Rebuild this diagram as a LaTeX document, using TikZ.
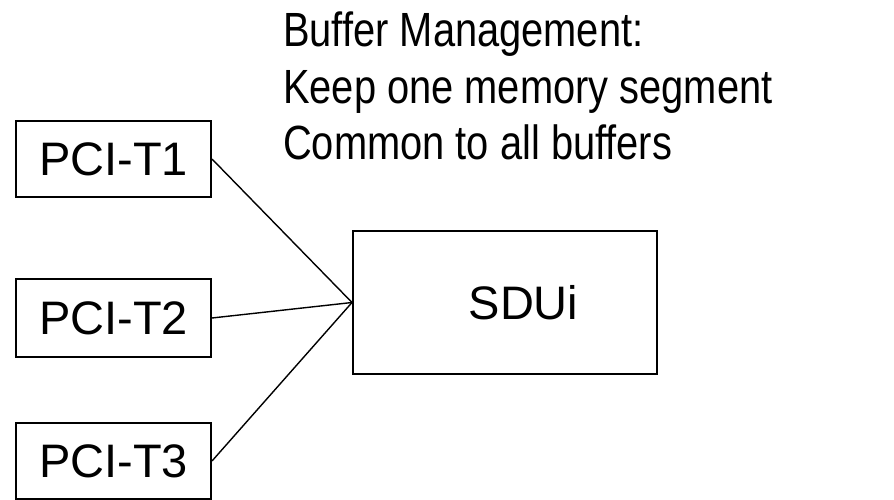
\documentclass[tikz,border=0pt]{standalone}
\usepackage{fontspec}
\setmainfont{Liberation Sans}
\newfontfamily\narrowfont[FakeStretch=0.83]{Liberation Sans}
\begin{document}
\begin{tikzpicture}[x=1pt,y=-1pt,
  box/.style={draw=black,line width=2pt,inner sep=0pt,font=\fontsize{47}{56}\selectfont},
  txt/.style={anchor=base west,inner sep=0pt,font=\narrowfont\fontsize{48}{56}\selectfont},
  conn/.style={draw=black,line width=1.4pt}]
\useasboundingbox (0,0) rectangle (894,500);
\node[box,minimum width=195,minimum height=76] (t1) at (113.5,159) {PCI-T1};
\node[box,minimum width=195,minimum height=78] (t2) at (113.5,318) {PCI-T2};
\node[box,minimum width=195,minimum height=76] (t3) at (113.5,461) {PCI-T3};
\node[box,minimum width=304,minimum height=143] (sdui) at (505,302.5) {};
\node[inner sep=0pt,anchor=base,font=\fontsize{47}{56}\selectfont] (sduilabel) at (523.5,319) {SDUi};
\draw[conn] (t1.east) -- (sdui.west);
\draw[conn] (t2.east) -- (sdui.west);
\draw[conn] (t3.east) -- (sdui.west);
\node[txt] (l1) at (283,46.7) {Buffer Management:};
\node[txt] (l2) at (283,103.3) {Keep one memory segment};
\node[txt] (l3) at (283,160) {Common to all buffers};
\end{tikzpicture}
\end{document}
